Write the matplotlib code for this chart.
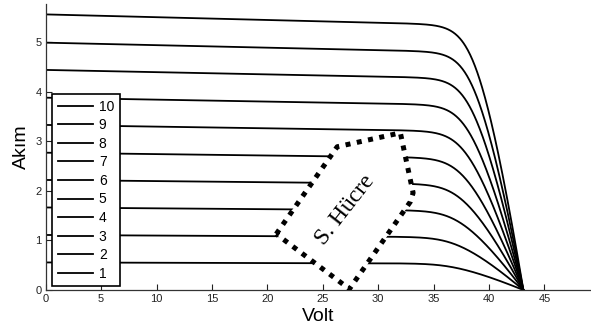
import numpy as np
import matplotlib
matplotlib.use("Agg")
import matplotlib.pyplot as plt

# Short-circuit currents of the ten curves (A), labels 1..10
labels = ["1", "2", "3", "4", "5", "6", "7", "8", "9", "10"]
isc = [0.556, 1.11, 1.665, 2.22, 2.77, 3.33, 3.88, 4.44, 4.99, 5.56]
# Common open-circuit voltage (V)
voc = 43.1
# Knee shape per curve: diode width and normalised series term
knee_a = [1.15, 1.12, 1.09, 1.06, 1.03, 1.00, 0.98, 0.96, 0.95, 0.95]
knee_r = [5.0, 4.75, 4.5, 4.3, 4.1, 3.9, 3.7, 3.5, 3.35, 3.2]
# Normalised shunt slope (1/V)
shunt = 0.001

# Dotted outline marking the cell region
poly_x = [20.8, 26.3, 32.0, 33.15, 32.9, 27.4, 20.8]
poly_y = [1.13, 2.89, 3.17, 1.96, 1.78, 0.02, 1.13]

x_ticks = [0, 5, 10, 15, 20, 25, 30, 35, 40, 45]
y_ticks = [0, 1, 2, 3, 4, 5]


def iv_curve(v, i_sc, a, r):
    """Single-diode style curve, solved by bisection on the normalised current."""
    scale = 1.0 - shunt * voc
    lo = np.zeros_like(v)
    hi = np.ones_like(v)
    for _ in range(60):
        mid = 0.5 * (lo + hi)
        rhs = 1.0 - shunt * v - scale * np.exp((v + r * mid - voc) / a)
        f = mid - rhs
        hi = np.where(f > 0, mid, hi)
        lo = np.where(f > 0, lo, mid)
    return i_sc * 0.5 * (lo + hi)


plt.rcParams["font.family"] = ["Liberation Sans", "DejaVu Sans"]

fig = plt.figure(figsize=(5.91, 3.34), dpi=100)
ax = fig.add_axes([45.7 / 591, 44 / 334, (591 - 45.7) / 591, 286 / 334])

v = np.linspace(0, voc, 800)
lines = []
for lab, i_sc, a, r in zip(labels, isc, knee_a, knee_r):
    ln, = ax.plot(v, iv_curve(v, i_sc, a, r), color="black", lw=1.3, label=lab)
    lines.append(ln)

# White patch hides the curves inside the outlined region
ax.fill(poly_x, poly_y, color="white", zorder=4)
ax.plot(poly_x, poly_y, color="black", lw=3.6, linestyle=(0, (1, 1.3)),
        solid_capstyle="butt", dash_capstyle="butt", zorder=5)
ax.text(27.0, 1.62, "S. Hücre", rotation=52, ha="center", va="center",
        fontsize=17, family=["Liberation Serif", "DejaVu Serif"], zorder=6)

ax.set_xlim(0, 49.2)
ax.set_ylim(0, 5.77)
ax.set_xticks(x_ticks)
ax.set_yticks(y_ticks)
ax.tick_params(direction="in", length=4, width=0.8, labelsize=8, pad=3,
               colors="#222222")
for side in ("top", "right"):
    ax.spines[side].set_visible(False)
for side in ("left", "bottom"):
    ax.spines[side].set_color("#333333")
    ax.spines[side].set_linewidth(0.9)

ax.set_xlabel("Volt", fontsize=14, labelpad=3)
ax.set_ylabel("Akım", fontsize=14, labelpad=4)

leg = ax.legend(handles=lines[::-1], loc="upper left",
                bbox_to_anchor=(52.3 / 591, 1 - 94 / 334),
                bbox_transform=fig.transFigure, borderaxespad=0,
                fontsize=10, frameon=True, fancybox=False, framealpha=1,
                edgecolor="black", handlelength=2.5, handletextpad=0.45,
                labelspacing=0.33, borderpad=0.4)
leg.get_frame().set_linewidth(1.2)
leg.set_zorder(7)

fig.savefig("out.png", dpi=100)
